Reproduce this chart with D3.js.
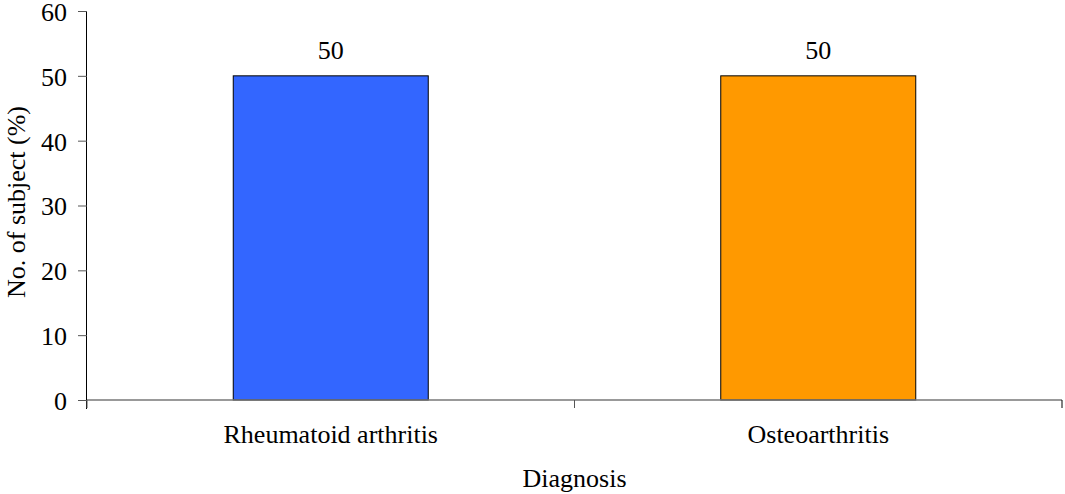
<!DOCTYPE html>
<html>
<head>
<meta charset="utf-8">
<script src="https://cdn.jsdelivr.net/npm/d3@7"></script>
<style>
  html, body { margin: 0; padding: 0; background: #fff; }
  svg { display: block; }
  svg text { font-family: "Liberation Serif", "Times New Roman", serif; }
</style>
</head>
<body>
<svg id="chart" width="1065" height="494"></svg>
<script>
// Share of subjects by diagnosis
const categories = ["Rheumatoid arthritis", "Osteoarthritis"];
const values = [50, 50];
const barColors = ["#3366ff", "#ff9900"];
const yTicks = [0, 10, 20, 30, 40, 50, 60];

const FONT = "'Liberation Serif', 'Times New Roman', serif";
const FS = 26;

const svg = d3.select("#chart");
const margin = { left: 87, right: 3, top: 11, bottom: 94 };
const W = 1065, H = 494;

const x = d3.scaleBand()
  .domain(categories)
  .range([margin.left, W - margin.right])
  .padding(0);

const y = d3.scaleLinear()
  .domain([0, 60])
  .range([H - margin.bottom, margin.top]);

const barW = x.bandwidth() * 0.4;

// bars
svg.append("g")
  .selectAll("rect")
  .data(categories)
  .join("rect")
  .attr("x", d => x(d) + (x.bandwidth() - barW) / 2)
  .attr("y", (d, i) => y(values[i]))
  .attr("width", barW)
  .attr("height", (d, i) => y(0) - y(values[i]))
  .attr("fill", (d, i) => barColors[i])
  .attr("stroke", "#000")
  .attr("stroke-width", 1);

// value labels
svg.append("g")
  .selectAll("text")
  .data(categories)
  .join("text")
  .attr("x", d => x(d) + x.bandwidth() / 2)
  .attr("y", (d, i) => y(values[i]) - 17)
  .attr("text-anchor", "middle")
  .attr("font-family", FONT)
  .attr("font-size", FS)
  .attr("fill", "#000")
  .text((d, i) => values[i]);

// y axis
const yAxis = svg.append("g")
  .attr("transform", `translate(${margin.left},0)`)
  .call(d3.axisLeft(y).tickValues(yTicks).tickSize(9).tickPadding(11));
yAxis.select(".domain").attr("stroke", "#000").attr("d", `M-0.5,${y(60)}V${y(0) + 9}`);
yAxis.selectAll(".tick line").attr("stroke", "#555");
yAxis.selectAll(".tick text")
  .attr("font-size", FS)
  .attr("font-family", FONT)
  .attr("dy", "0.36em")
  .attr("fill", "#000");

// x axis: ticks at category boundaries
const xBounds = [x.range()[0], x(categories[1]), x.range()[1]];
const xAxisG = svg.append("g").attr("transform", `translate(0,${y(0)})`);
xAxisG.append("line")
  .attr("x1", x.range()[0]).attr("x2", x.range()[1])
  .attr("y1", 0).attr("y2", 0)
  .attr("stroke", "#777").attr("stroke-width", 1.5);
xAxisG.selectAll("line.tick")
  .data(xBounds)
  .join("line")
  .attr("class", "tick")
  .attr("x1", d => d).attr("x2", d => d)
  .attr("y1", 0).attr("y2", 8)
  .attr("stroke", (d, i) => i === 2 ? "#000" : "#555");
xAxisG.selectAll("text")
  .data(categories)
  .join("text")
  .attr("x", d => x(d) + x.bandwidth() / 2)
  .attr("y", 43)
  .attr("text-anchor", "middle")
  .attr("font-family", FONT)
  .attr("font-size", FS)
  .attr("fill", "#000")
  .text(d => d);

// axis titles
svg.append("text")
  .attr("x", (x.range()[0] + x.range()[1]) / 2)
  .attr("y", 487)
  .attr("text-anchor", "middle")
  .attr("font-family", FONT)
  .attr("font-size", FS)
  .text("Diagnosis");

svg.append("text")
  .attr("transform", `translate(25,202) rotate(-90)`)
  .attr("text-anchor", "middle")
  .attr("font-family", FONT)
  .attr("font-size", FS)
  .text("No. of subject (%)");
</script>
</body>
</html>
